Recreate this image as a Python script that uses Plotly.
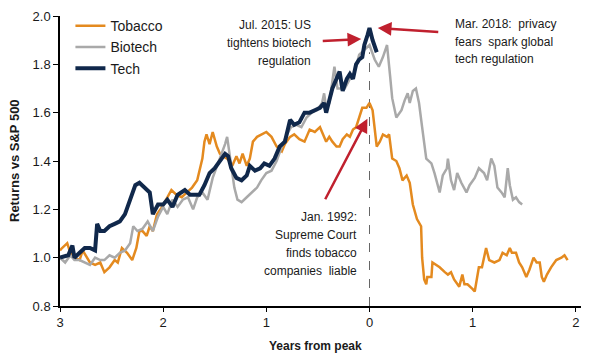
import plotly.graph_objects as go

# ---------------- data (years from peak, returns vs S&P 500) ----------------
tobacco_t = [-3.00, -2.98, -2.93, -2.90, -2.86, -2.81, -2.78, -2.74, -2.71, -2.66, -2.61, -2.57, -2.52, -2.47,
             -2.44, -2.40, -2.35, -2.30, -2.26, -2.23, -2.20, -2.16, -2.13, -2.10, -2.06, -2.01, -1.97, -1.92,
             -1.87, -1.82, -1.77, -1.72, -1.67, -1.65, -1.62, -1.60, -1.58, -1.55, -1.52, -1.48, -1.45, -1.42,
             -1.38, -1.36, -1.33, -1.29, -1.26, -1.23, -1.19, -1.16, -1.13, -1.09, -1.05, -1.00, -0.95, -0.90,
             -0.85, -0.82, -0.77, -0.73, -0.68, -0.63, -0.58, -0.53, -0.48, -0.45, -0.42, -0.39, -0.36, -0.32,
             -0.29, -0.26, -0.22, -0.19, -0.16, -0.13, -0.10, -0.07, -0.03, 0.00, 0.03, 0.07, 0.10, 0.13, 0.17,
             0.19, 0.22, 0.26, 0.29, 0.32, 0.36, 0.39, 0.42, 0.46, 0.50, 0.51, 0.53, 0.55, 0.56, 0.60, 0.61,
             0.65, 0.68, 0.73, 0.76, 0.79, 0.82, 0.87, 0.90, 0.92, 0.95, 1.00, 1.02, 1.06, 1.09, 1.13, 1.16,
             1.21, 1.26, 1.29, 1.33, 1.36, 1.38, 1.42, 1.45, 1.48, 1.52, 1.55, 1.59, 1.62, 1.65, 1.67, 1.69,
             1.72, 1.76, 1.81, 1.86, 1.89, 1.92]
tobacco_v = [1.03, 1.04, 1.06, 1.02, 1.00, 0.99, 1.03, 1.00, 0.98, 0.97, 0.98, 0.94, 0.96, 0.99,
             0.98, 1.04, 1.02, 0.99, 1.04, 1.11, 1.11, 1.09, 1.13, 1.11, 1.18, 1.21, 1.24, 1.28,
             1.26, 1.25, 1.27, 1.29, 1.32, 1.36, 1.41, 1.48, 1.51, 1.47, 1.52, 1.46, 1.43, 1.42,
             1.41, 1.40, 1.38, 1.42, 1.39, 1.43, 1.38, 1.41, 1.48, 1.50, 1.51, 1.52, 1.50, 1.46,
             1.44, 1.47, 1.50, 1.51, 1.49, 1.48, 1.53, 1.52, 1.54, 1.51, 1.48, 1.50, 1.48, 1.46,
             1.46, 1.49, 1.51, 1.50, 1.53, 1.54, 1.58, 1.62, 1.62, 1.64, 1.61, 1.46, 1.48, 1.51, 1.50,
             1.51, 1.41, 1.40, 1.37, 1.32, 1.34, 1.31, 1.22, 1.16, 1.13, 1.00, 0.91, 0.89, 0.92, 0.92, 0.98,
             0.97, 0.96, 0.94, 0.93, 0.94, 0.91, 0.88, 0.93, 0.89, 0.89, 0.87, 0.86, 0.96, 0.96, 1.04, 0.99,
             0.98, 0.99, 1.02, 1.01, 1.04, 1.02, 1.02, 0.98, 0.96, 0.92, 0.95, 1.00, 0.98, 0.98, 0.92, 0.90,
             0.93, 0.96, 0.99, 1.00, 1.01, 0.99]

biotech_t = [-3.00, -2.95, -2.90, -2.86, -2.81, -2.76, -2.71, -2.66, -2.61, -2.57, -2.52, -2.47, -2.42, -2.37,
             -2.32, -2.29, -2.25, -2.20, -2.15, -2.10, -2.05, -2.00, -1.96, -1.91, -1.86, -1.81, -1.76, -1.71,
             -1.67, -1.62, -1.57, -1.52, -1.45, -1.40, -1.38, -1.34, -1.31, -1.28, -1.24, -1.19, -1.14, -1.09,
             -1.05, -1.00, -0.95, -0.90, -0.85, -0.80, -0.76, -0.71, -0.66, -0.61, -0.56, -0.51, -0.46, -0.44,
             -0.42, -0.39, -0.34, -0.31, -0.24, -0.19, -0.15, -0.10, -0.05, 0.00, 0.05, 0.09, 0.13, 0.17, 0.20,
             0.22, 0.26, 0.31, 0.34, 0.37, 0.39, 0.42, 0.45, 0.48, 0.51, 0.55, 0.60, 0.63, 0.68, 0.71, 0.75,
             0.76, 0.79, 0.82, 0.85, 0.89, 0.94, 0.97, 1.02, 1.06, 1.11, 1.14, 1.18, 1.21, 1.24, 1.28, 1.31,
             1.34, 1.36, 1.39, 1.42, 1.45, 1.48]
biotech_v = [1.00, 0.98, 1.01, 0.99, 0.99, 0.98, 0.97, 1.00, 0.99, 0.99, 1.01, 1.00, 1.02, 1.03,
             1.06, 1.13, 1.11, 1.12, 1.15, 1.11, 1.17, 1.21, 1.18, 1.24, 1.21, 1.24, 1.25, 1.20,
             1.25, 1.27, 1.24, 1.33, 1.41, 1.47, 1.50, 1.37, 1.29, 1.24, 1.23, 1.25, 1.27, 1.29,
             1.32, 1.35, 1.36, 1.40, 1.46, 1.51, 1.54, 1.55, 1.54, 1.58, 1.60, 1.61, 1.64, 1.68,
             1.62, 1.64, 1.79, 1.70, 1.70, 1.74, 1.76, 1.84, 1.86, 1.88, 1.82, 1.79, 1.83, 1.88, 1.75,
             1.66, 1.58, 1.61, 1.65, 1.68, 1.64, 1.69, 1.70, 1.64, 1.54, 1.41, 1.39, 1.35, 1.27, 1.34, 1.37,
             1.41, 1.32, 1.28, 1.35, 1.31, 1.27, 1.30, 1.33, 1.37, 1.35, 1.32, 1.41, 1.38, 1.29, 1.27, 1.25,
             1.37, 1.30, 1.24, 1.25, 1.23, 1.22]

tech_t = [-3.00, -2.92, -2.88, -2.86, -2.81, -2.76, -2.71, -2.66, -2.64, -2.61, -2.57, -2.52, -2.47, -2.42,
          -2.37, -2.32, -2.27, -2.23, -2.18, -2.13, -2.10, -2.05, -2.00, -1.96, -1.91, -1.86, -1.79, -1.74,
          -1.69, -1.65, -1.60, -1.55, -1.50, -1.45, -1.40, -1.37, -1.34, -1.29, -1.24, -1.19, -1.16, -1.11,
          -1.06, -1.02, -0.97, -0.92, -0.87, -0.82, -0.77, -0.73, -0.68, -0.63, -0.58, -0.53, -0.48, -0.44,
          -0.42, -0.39, -0.36, -0.32, -0.29, -0.26, -0.22, -0.19, -0.16, -0.13, -0.10, -0.07, -0.05, -0.02,
          0.00, 0.03, 0.05, 0.07]
tech_v = [1.00, 1.01, 1.05, 1.00, 1.02, 1.04, 1.04, 1.03, 1.14, 1.11, 1.11, 1.13, 1.14, 1.15,
          1.18, 1.24, 1.30, 1.31, 1.29, 1.27, 1.18, 1.22, 1.22, 1.24, 1.21, 1.26, 1.28, 1.26,
          1.26, 1.26, 1.30, 1.35, 1.37, 1.40, 1.43, 1.42, 1.37, 1.33, 1.32, 1.34, 1.38, 1.36,
          1.37, 1.39, 1.38, 1.41, 1.46, 1.48, 1.57, 1.55, 1.56, 1.60, 1.60, 1.61, 1.62, 1.64,
          1.60, 1.65, 1.70, 1.74, 1.77, 1.69, 1.74, 1.76, 1.74, 1.80, 1.82, 1.83, 1.88, 1.92,
          1.95, 1.90, 1.88, 1.85]

x_tickvals = [-3, -2, -1, 0, 1, 2]
x_ticktext = ["3", "2", "1", "0", "1", "2"]

FONT = "Liberation Sans, Arial, sans-serif"
ORANGE = "#E48A1F"
GRAY = "#A9A9A9"
NAVY = "#10284B"
RED = "#C0202E"
TXT = "#1a1a1a"

# plot area in screen pixels (page body has an 8px margin)
PL, PR, PT, PB = 60, 581, 16, 306
PW, PH = PR - PL, PB - PT

def px2paper(px, py):
    return (px - PL) / PW, (PB - py) / PH

fig = go.Figure()
fig.add_trace(go.Scatter(x=tobacco_t, y=tobacco_v, mode="lines", name="Tobacco",
                         line=dict(color=ORANGE, width=2.5)))
fig.add_trace(go.Scatter(x=biotech_t, y=biotech_v, mode="lines", name="Biotech",
                         line=dict(color=GRAY, width=2.5)))
fig.add_trace(go.Scatter(x=tech_t, y=tech_v, mode="lines", name="Tech",
                         line=dict(color=NAVY, width=4)))

# dashed peak marker
fig.add_shape(type="line", x0=0, x1=0, y0=0.8, y1=1.85, xref="x", yref="y",
              line=dict(color="#666666", width=1, dash="dash"), layer="below")

annotations = []

def text_lines(lines, px, ys, anchor):
    for s, py in zip(lines, ys):
        x, y = px2paper(px, py)
        annotations.append(dict(text=s, xref="paper", yref="paper", x=x, y=y,
                                xanchor=anchor, yanchor="middle", showarrow=False,
                                font=dict(family=FONT, size=12, color=TXT)))

text_lines(["Jul. 2015: US", "tightens biotech", "regulation"], 313, [25, 43, 61], "right")
text_lines(["Mar. 2018:  privacy", "fears  spark global", "tech regulation"], 453, [24, 42, 59], "left")
text_lines(["Jan. 1992:", "Supreme Court", "finds tobacco", "companies  liable"], 359, [217, 235, 253, 271], "right")

# arrows
for hx, hy, ax, ay in [(-0.08, 1.905, -40, 2), (0.08, 1.95, 62, 4), (-0.02, 1.575, -43, 82)]:
    annotations.append(dict(x=hx, y=hy, xref="x", yref="y", ax=ax, ay=ay, text="",
                            showarrow=True, arrowhead=2, arrowsize=1.1, arrowwidth=2.5,
                            arrowcolor=RED))

# axis titles
tx, ty = px2paper(14, 161)
annotations.append(dict(text="<b>Returns vs S&P 500</b>", xref="paper", yref="paper",
                        x=tx, y=ty, textangle=-90, showarrow=False,
                        xanchor="center", yanchor="middle",
                        font=dict(family=FONT, size=13, color=TXT)))
tx, ty = px2paper(315, 346)
annotations.append(dict(text="<b>Years from peak</b>", xref="paper", yref="paper",
                        x=tx, y=ty, showarrow=False,
                        xanchor="center", yanchor="middle",
                        font=dict(family=FONT, size=12, color=TXT)))

W, H = 573, 351
fig.update_layout(
    width=W, height=H,
    margin=dict(l=PL - 8, r=W - (PR - 8), t=PT - 8, b=H - (PB - 8)),
    paper_bgcolor="white", plot_bgcolor="white",
    font=dict(family=FONT, size=13, color=TXT),
    showlegend=True,
    legend=dict(x=0.02, y=1.02, xanchor="left", yanchor="top",
                bgcolor="rgba(0,0,0,0)", font=dict(family=FONT, size=14, color=TXT),
                itemwidth=30, tracegroupgap=0),
    annotations=annotations,
    xaxis=dict(range=[-3, 2.05], tickvals=x_tickvals, ticktext=x_ticktext,
               showgrid=False, zeroline=False, showline=True, linecolor="black", linewidth=1.5,
               ticks="outside", ticklen=4, tickcolor="black",
               tickfont=dict(family=FONT, size=13, color=TXT)),
    yaxis=dict(range=[0.8, 2.0], dtick=0.2, tickformat=".1f",
               showgrid=False, zeroline=False, showline=True, linecolor="black", linewidth=1.5,
               ticks="outside", ticklen=5, tickcolor="black",
               tickfont=dict(family=FONT, size=13, color=TXT)),
)

fig.write_html("out.html")
